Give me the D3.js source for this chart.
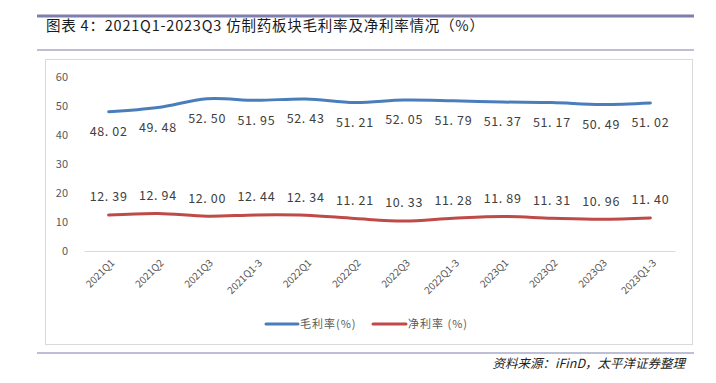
<!DOCTYPE html>
<html><head><meta charset="utf-8">
<script src="https://cdn.jsdelivr.net/npm/d3@7"></script>
<style>
html,body{margin:0;padding:0;background:#fff;}
svg{display:block;}
text{font-family:"Noto Sans CJK SC","Noto Sans",sans-serif;}
</style></head>
<body>
<svg id="c" width="716" height="383"></svg>
<script>
const categories = ["2021Q1","2021Q2","2021Q3","2021Q1-3","2022Q1","2022Q2","2022Q3","2022Q1-3","2023Q1","2023Q2","2023Q3","2023Q1-3"];
const grossMargin = [48.02,49.48,52.50,51.95,52.43,51.21,52.05,51.79,51.37,51.17,50.49,51.02];
const netMargin = [12.39,12.94,12.00,12.44,12.34,11.21,10.33,11.28,11.89,11.31,10.96,11.40];
const yTicks = [0,10,20,30,40,50,60];
const seriesNames = ["毛利率(%)","净利率 (%)"];
const titleText = "图表 4：2021Q1-2023Q3 仿制药板块毛利率及净利率情况（%）";
const sourceText = "资料来源：iFinD，太平洋证券整理";

const svg = d3.select("#c");
const ruleColor = "#7f7fae";

// header & footer rules
svg.append("line").attr("x1",37).attr("x2",694).attr("y1",16).attr("y2",16).attr("stroke",ruleColor).attr("stroke-width",3);
svg.append("line").attr("x1",37).attr("x2",694).attr("y1",50).attr("y2",50).attr("stroke",ruleColor).attr("stroke-width",1.2);
svg.append("line").attr("x1",37).attr("x2",694).attr("y1",353).attr("y2",353).attr("stroke",ruleColor).attr("stroke-width",1.2);

svg.append("text").attr("x",46).attr("y",31).attr("font-size",14.5).attr("fill","#1a1a1a")
  .attr("textLength",438).attr("lengthAdjust","spacing").text(titleText);

svg.append("text").attr("x",685).attr("y",368).attr("text-anchor","end").attr("font-size",12.5)
  .attr("font-style","italic").attr("fill","#222").text(sourceText);

// chart frame
svg.append("rect").attr("x",45.5).attr("y",59.5).attr("width",647).attr("height",285)
  .attr("fill","#fff").attr("stroke","#d9d9d9").attr("stroke-width",1);

const x = d3.scaleBand().domain(categories).range([84,675]);
const y = d3.scaleLinear().domain([0,60]).range([251,77]);
const cx = d => x(d) + x.bandwidth()/2;

// axis baseline
const xAxis = d3.axisBottom(x).tickSize(0).tickPadding(0);
const gx = svg.append("g").attr("transform","translate(0,251)").call(xAxis);
gx.select(".domain").attr("stroke","#d9d9d9");
gx.selectAll(".tick text")
  .attr("font-size",10).attr("fill","#595959")
  .attr("text-anchor","end")
  .attr("transform","translate(4,10) rotate(-45)")
  .attr("dy","0.35em").attr("y",0).attr("x",0);

const yAxis = d3.axisLeft(y).tickValues(yTicks).tickSize(0).tickPadding(0);
const gy = svg.append("g").attr("transform","translate(68,0)").call(yAxis);
gy.select(".domain").remove();
gy.selectAll(".tick text").attr("font-size",11).attr("fill","#595959").attr("x",0);

const series = [
  {name:seriesNames[0], values:grossMargin, color:"#4a7ebb", off:20},
  {name:seriesNames[1], values:netMargin, color:"#be4b48", off:-18}
];
const line = d3.line().x((d,i)=>cx(categories[i])).y(d=>y(d)).curve(d3.curveCatmullRom.alpha(0.5));

series.forEach(s=>{
  svg.append("path").datum(s.values).attr("d",line).attr("fill","none")
    .attr("stroke",s.color).attr("stroke-width",3).attr("stroke-linecap","round");
  svg.append("g").selectAll("text").data(s.values).join("text")
    .attr("x",(d,i)=>cx(categories[i])).attr("y",d=>y(d)+s.off)
    .attr("dy","0.35em").attr("text-anchor","middle")
    .attr("font-size",12.5).attr("fill","#404040").attr("letter-spacing",0.6)
    .text(d=>d.toFixed(2).replace("."," . ").replace(" . ",". "));
});

// legend
const legend = [{x1:266,x2:298,tx:300},{x1:373,x2:406,tx:408}];
series.forEach((s,i)=>{
  const L = legend[i];
  svg.append("line").attr("x1",L.x1).attr("x2",L.x2).attr("y1",324).attr("y2",324)
    .attr("stroke",s.color).attr("stroke-width",3).attr("stroke-linecap","round");
  svg.append("text").attr("x",L.tx).attr("y",324).attr("dy","0.35em").attr("font-size",11)
    .attr("fill","#595959").attr("letter-spacing",1).text(s.name);
});
</script>
</body></html>
